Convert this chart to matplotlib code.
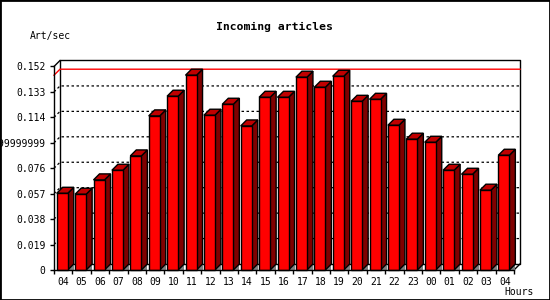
import matplotlib
matplotlib.use('Agg')
import matplotlib.pyplot as plt
from matplotlib.patches import Polygon, Rectangle

hours = ['04', '05', '06', '07', '08', '09', '10', '11', '12', '13', '14', '15', '16',
         '17', '18', '19', '20', '21', '22', '23', '00', '01', '02', '03', '04']
rates = [0.0573, 0.0566, 0.0673, 0.0745, 0.0852, 0.1151, 0.1298, 0.1455, 0.1156,
         0.1238, 0.1076, 0.1290, 0.1290, 0.1440, 0.1365, 0.1447, 0.1260, 0.1275,
         0.1081, 0.0977, 0.0954, 0.0745, 0.0715, 0.0596, 0.0857]
yticks = [0, 0.019, 0.038, 0.057, 0.076, 0.095, 0.114, 0.133, 0.152]
ylabels = ['0', '0.019', '0.038', '0.057', '0.076', '0.09499999999999',
           '0.114', '0.133', '0.152']

plt.rcParams['font.family'] = ['DejaVu Sans Mono']

fig = plt.figure(figsize=(5.5, 3), dpi=100)
fig.patch.set_facecolor('white')
fig.add_artist(Rectangle((0, 0), 1, 1, transform=fig.transFigure, fill=False,
                         edgecolor='black', linewidth=2))

ax = fig.add_axes([54 / 550, 30 / 300, 460 / 550, 203.5 / 300])
ax.set_xlim(-0.5, len(hours) - 0.5)
ax.set_ylim(0, yticks[-1])
ax.patch.set_alpha(0)

# depth of the fake 3d, 6 px in both directions
n = len(hours)
dx = 6 / (460 / n)
dy = 6 / 203.5 * yticks[-1]
x0, x1 = -0.5, n - 0.5
top = yticks[-1]

line_kw = dict(color='black', linewidth=1, clip_on=False, zorder=1)
# back plane and walls
ax.plot([x0 + dx, x1 + dx, x1 + dx, x0 + dx, x0 + dx],
        [dy, dy, top + dy, top + dy, dy], **line_kw)
ax.plot([x0, x0 + dx], [top, top + dy], **line_kw)
ax.plot([x1, x1 + dx], [0, dy], **line_kw)

# dotted grid on the back plane
for v in yticks[1:-1]:
    ax.plot([x0, x0 + dx, x1 + dx], [v, v + dy, v + dy], color='black',
            linewidth=0.9, linestyle=(0, (2, 2)), clip_on=False, zorder=1)

# max line
m = max(rates)
ax.plot([x0, x0 + dx, x1 + dx], [m, m + dy, m + dy], color='red', linewidth=1,
        clip_on=False, zorder=1.5)

# bars
w = 0.6
bar_kw = dict(closed=True, edgecolor='black', linewidth=1, clip_on=False, zorder=3)
for i, v in enumerate(rates):
    l = i - 0.353
    r = l + w
    ax.add_patch(Polygon([(r, 0), (r + dx, 0), (r + dx, dy)], closed=True,
                         facecolor='#808080', edgecolor='none', clip_on=False, zorder=3))
    ax.add_patch(Polygon([(r, 0), (r + dx, dy), (r + dx, v + dy), (r, v)],
                         facecolor='#800000', **bar_kw))
    ax.add_patch(Polygon([(l, v), (l + dx, v + dy), (r + dx, v + dy), (r, v)],
                         facecolor='#c00000', **bar_kw))
    ax.add_patch(Polygon([(l, 0), (r, 0), (r, v), (l, v)],
                         facecolor='#ff0000', **bar_kw))

for s in ['top', 'right']:
    ax.spines[s].set_visible(False)
ax.spines['left'].set_linewidth(1)
ax.spines['bottom'].set_linewidth(1)
ax.spines['left'].set_zorder(4)
ax.spines['bottom'].set_zorder(4)

ax.set_yticks(yticks)
ax.set_yticklabels(ylabels, fontsize=7)
ax.tick_params(axis='y', length=3, width=1, pad=3)
ax.set_xticks(range(n))
ax.set_xticklabels(hours, fontsize=7)
ax.set_xticks([i - 0.5 for i in range(n + 1)], minor=True)
ax.tick_params(axis='x', which='major', length=0, pad=5)
ax.tick_params(axis='x', which='minor', length=3, width=1)

fig.text(274 / 550, 1 - 27 / 300, 'Incoming articles', fontsize=8.2, fontweight='bold',
         ha='center', va='center')
fig.text(30 / 550, 1 - 36.5 / 300, 'Art/sec', fontsize=7, ha='left', va='center')
fig.text(504 / 550, 1 - 292 / 300, 'Hours', fontsize=7, ha='left', va='center')

fig.savefig('out.png', dpi=100)
